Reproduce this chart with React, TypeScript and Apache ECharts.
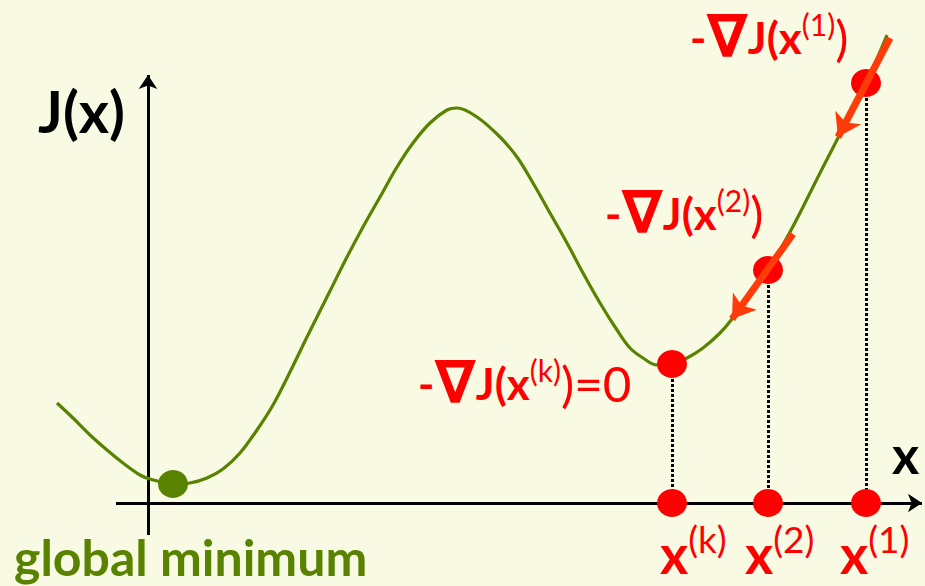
import React, { useEffect, useRef } from "react";
import * as echarts from "echarts";

// J(x) curve (x, J in arbitrary units, origin at axes crossing)
const curveX = [-0.91, -0.75, -0.58, -0.41, -0.25, -0.08, 0.02, 0.25, 0.42, 0.59, 0.75, 0.92, 1.09, 1.25, 1.42, 1.59, 1.82, 1.99, 2.15, 2.32, 2.49, 2.65, 2.82, 2.99, 3.09, 3.29, 3.52, 3.69, 3.85, 4.02, 4.19, 4.35, 4.52, 4.69, 4.82, 4.95, 5.09, 5.24, 5.39, 5.55, 5.72, 5.84, 6.2, 6.42, 6.55, 6.72, 6.91, 7.18, 7.39];
const curveJ = [1.0, 0.85, 0.68, 0.53, 0.4, 0.28, 0.24, 0.19, 0.2, 0.25, 0.34, 0.5, 0.73, 0.98, 1.31, 1.66, 2.12, 2.46, 2.76, 3.06, 3.36, 3.6, 3.8, 3.93, 3.95, 3.86, 3.66, 3.46, 3.2, 2.9, 2.6, 2.3, 2.0, 1.73, 1.55, 1.45, 1.38, 1.39, 1.45, 1.55, 1.7, 1.84, 2.33, 2.71, 2.96, 3.3, 3.67, 4.2, 4.68];

// gradient descent iterates: x(1), x(2), x(k)
const iterNames = ["1", "2", "k"];
const iterX = [7.18, 6.2, 5.24];
const iterJ = [4.2, 2.33, 1.39];

// global minimum
const globalMinX = 0.25;
const globalMinJ = 0.19;

// -grad J steps (start, end)
const stepFrom = [[7.42, 4.65], [6.45, 2.69]];
const stepTo = [[6.9, 3.66], [5.84, 1.84]];

// axes extents
const xAxisFrom = [-0.32, 0];
const xAxisTo = [7.74, 0];
const yAxisFrom = [0, -0.32];
const yAxisTo = [0, 4.28];

const GREEN = "#588200";
const RED = "#FF0000";
const ORANGE = "#FF3B0A";
const BG = "#F9FAE4";
const FONT = "Lato";

export default function App() {
  const ref = useRef<HTMLDivElement>(null);
  useEffect(() => {
    document.body.style.margin = "0";
    const chart = echarts.init(ref.current!, null, { renderer: "svg" });
    const curve = curveX.map((x, i) => [x, curveJ[i]]);
    const onCurve = iterX.map((x, i) => [x, iterJ[i]]);
    const onAxis = iterX.map((x) => [x, 0]);
    const richBase = (size: number, supSize: number, color: string) => ({
      b: { fontFamily: FONT, fontWeight: "bold", fontSize: size, lineHeight: size * 1.25, fill: color },
      n: { fontFamily: "DejaVu Sans", fontWeight: "bold", fontSize: size * 1.35, lineHeight: size * 1.25, fill: color },
      s: { fontFamily: FONT, fontWeight: "normal", fontSize: supSize, lineHeight: supSize * 1.2, fill: color, verticalAlign: "top" },
      r: { fontFamily: FONT, fontWeight: "normal", fontSize: size * 1.12, lineHeight: size * 1.25, fill: color },
    });
    const topRich = richBase(44, 30, RED);
    const botRich = richBase(54, 37, RED);
    const textEl = (x: number, y: number, text: string, rich: any) => ({
      type: "text",
      x,
      y,
      z: 100,
      style: { text, rich, align: "left", verticalAlign: "top" },
    });
    const option: any = {
      animation: false,
      backgroundColor: BG,
      grid: { left: 0, right: 0, top: 0, bottom: 0 },
      xAxis: { type: "value", min: -1.48, max: 7.77, show: false },
      yAxis: { type: "value", min: -0.83, max: 5.03, show: false },
      series: [
        {
          type: "line",
          data: curve,
          smooth: 0.35,
          showSymbol: false,
          lineStyle: { color: GREEN, width: 3.2 },
          z: 2,
        },
        {
          type: "lines",
          coordinateSystem: "cartesian2d",
          symbol: ["none", "arrow"],
          symbolSize: 14,
          lineStyle: { color: "#000", width: 3, opacity: 1, curveness: 0 },
          data: [{ coords: [xAxisFrom, xAxisTo] }, { coords: [yAxisFrom, yAxisTo] }],
          z: 1,
        },
        {
          type: "lines",
          coordinateSystem: "cartesian2d",
          symbol: ["none", "none"],
          lineStyle: { color: "#000", width: 3, opacity: 1, type: [3, 2] },
          data: iterX.map((x, i) => ({ coords: [[x, iterJ[i]], [x, 0]] })),
          z: 3,
        },
        {
          type: "scatter",
          data: [...onCurve, ...onAxis],
          symbol: "circle",
          symbolSize: [30, 28],
          itemStyle: { color: RED, opacity: 1 },
          z: 4,
        },
        {
          type: "scatter",
          data: [[globalMinX, globalMinJ]],
          symbol: "circle",
          symbolSize: [30, 28],
          itemStyle: { color: GREEN, opacity: 1 },
          z: 4,
        },
        {
          type: "lines",
          coordinateSystem: "cartesian2d",
          symbol: ["none", "arrow"],
          symbolSize: 22,
          lineStyle: { color: ORANGE, width: 7, opacity: 1 },
          data: stepFrom.map((f, i) => ({ coords: [f, stepTo[i]] })),
          z: 5,
        },
      ],
      graphic: [
        {
          type: "text",
          x: 38,
          y: 81,
          style: { text: "J(x)", font: `bold 58px ${FONT}`, fill: "#000", align: "left", verticalAlign: "top" },
        },
        {
          type: "text",
          x: 892,
          y: 428,
          style: { text: "x", font: `bold 52px ${FONT}`, fill: "#000", align: "left", verticalAlign: "top" },
        },
        {
          type: "text",
          x: 14,
          y: 532,
          style: { text: "global minimum", font: `bold 50px ${FONT}`, fill: GREEN, align: "left", verticalAlign: "top" },
        },
        textEl(690, 9, `{b|-}{n|∇}{b|J(x}{s|(${iterNames[0]})}{r|)}`, topRich),
        textEl(605, 185, `{b|-}{n|∇}{b|J(x}{s|(${iterNames[1]})}{r|)}`, topRich),
        textEl(418, 355, `{b|-}{n|∇}{b|J(x}{s|(${iterNames[2]})}{r|)=0}`, topRich),
        textEl(840, 520, `{b|x}{s|(${iterNames[0]})}`, botRich),
        textEl(745, 520, `{b|x}{s|(${iterNames[1]})}`, botRich),
        textEl(660, 520, `{b|x}{s|(${iterNames[2]})}`, botRich),
      ],
    };
    chart.setOption(option);
    return () => chart.dispose();
  }, []);
  return <div ref={ref} style={{ width: 925, height: 586 }} />;
}
